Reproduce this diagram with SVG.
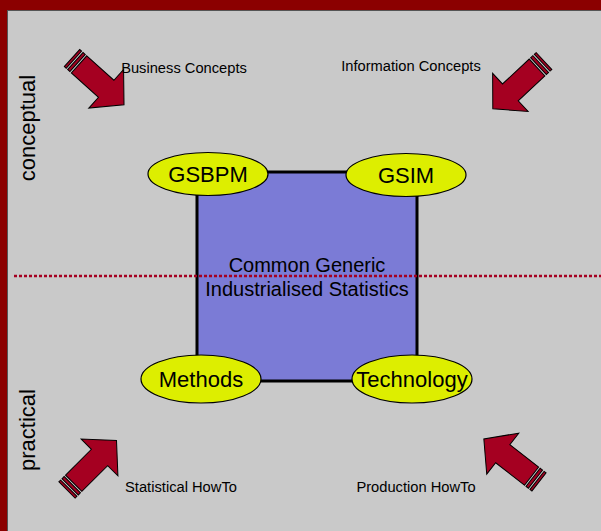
<svg xmlns="http://www.w3.org/2000/svg" width="601" height="531" viewBox="0 0 601 531">
<style>
text{font-family:"Liberation Sans",Arial,sans-serif;fill:#000}
.lbl{font-size:14.7px}
.big{font-size:22px}
.mid{font-size:20px}
.ell{fill:#DDEE00;stroke:#000;stroke-width:1.2}
.arr{fill:#A50021;stroke:#000;stroke-width:1}
</style>
<defs>
<g id="arrow">
<rect class="arr" x="0" y="-11.5" width="2.5" height="23"/>
<rect class="arr" x="4.5" y="-11.5" width="3" height="23"/>
<polygon class="arr" points="9.5,-11.5 46,-11.5 46,-26 70,0 46,26 46,11.5 9.5,11.5"/>
</g>
</defs>
<rect x="0" y="0" width="601" height="531" fill="#8B0000"/>
<rect x="7.5" y="10.5" width="600" height="530" fill="#C9C9C9" stroke="#555" stroke-width="1"/>
<g id="arrows">
<use href="#arrow" transform="translate(72,58) rotate(42)"/>
<use href="#arrow" transform="translate(544,61) rotate(137)"/>
<use href="#arrow" transform="translate(67,490) rotate(-45)"/>
<use href="#arrow" transform="translate(539,482) rotate(-142)"/>
</g>
<g id="labels">
<text class="lbl" x="184" y="73" text-anchor="middle">Business Concepts</text>
<text class="lbl" x="411" y="71" text-anchor="middle">Information Concepts</text>
<text class="lbl" x="181" y="492" text-anchor="middle">Statistical HowTo</text>
<text class="lbl" x="416" y="492" text-anchor="middle">Production HowTo</text>
<text class="big" transform="translate(35,128) rotate(-90)" text-anchor="middle">conceptual</text>
<text class="big" transform="translate(35,430) rotate(-90)" text-anchor="middle">practical</text>
</g>
<g id="core">
<rect x="197" y="172" width="220" height="209" fill="#7B7BD6" stroke="#000" stroke-width="3"/>
<text class="mid" x="307" y="272" text-anchor="middle">Common Generic</text>
<text class="mid" x="307" y="296" text-anchor="middle">Industrialised Statistics</text>
</g>
<g id="connectors">
<line x1="14" y1="276" x2="601" y2="276" stroke="#A50021" stroke-width="2.5" stroke-dasharray="3 2"/>
</g>
<g id="gsbpm">
<ellipse class="ell" cx="208" cy="174" rx="60" ry="21.5"/>
<text class="big" x="208" y="182" text-anchor="middle">GSBPM</text>
</g>
<g id="gsim">
<ellipse class="ell" cx="406" cy="175" rx="60" ry="21.5"/>
<text class="big" x="406" y="183" text-anchor="middle">GSIM</text>
</g>
<g id="methods">
<ellipse class="ell" cx="201" cy="379" rx="60" ry="24"/>
<text class="big" x="201" y="387" text-anchor="middle">Methods</text>
</g>
<g id="technology">
<ellipse class="ell" cx="412" cy="379" rx="60" ry="24"/>
<text class="big" x="412" y="387" text-anchor="middle">Technology</text>
</g>
</svg>
